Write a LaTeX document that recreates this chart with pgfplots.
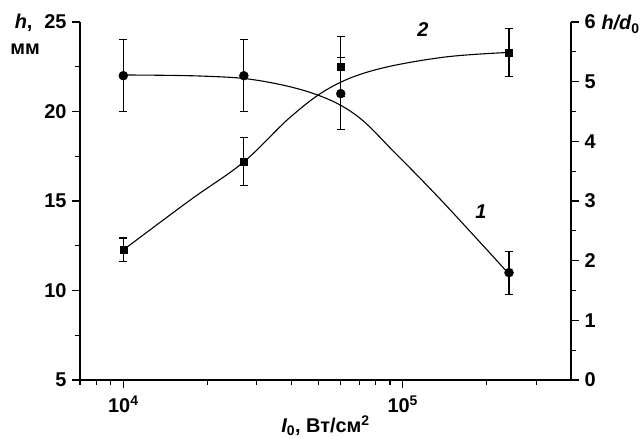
\documentclass[border=0pt]{standalone}
\usepackage{pgfplots}
\pgfplotsset{compat=1.18}
\usepackage{pgfplotstable}
\usepackage{fontspec}
\setmainfont{Liberation Sans}
\pgfplotstableread{
x y e
10000 22 2
27000 22 2
60000 21 2
240000 11 1.2
}\circdata
\pgfplotstableread{
x y e
10000 2.18 0.2
27000 3.66 0.4
60000 5.25 0.5
240000 5.49 0.4
}\sqdata
\pgfplotstableread{
x y
10000 22.04
19000 21.98
30000 21.75
48000 21.0
68000 19.8
95000 17.6
140000 14.9
240000 10.92
}\curveone
\pgfplotstableread{
x y
10000 2.18
17400 3.02
26900 3.65
39700 4.41
55000 4.9
80000 5.2
140000 5.41
240000 5.49
}\curvetwo
\begin{document}
\begin{tikzpicture}
\useasboundingbox (-80bp,-59bp) rectangle (560bp,380bp);
\pgfplotsset{
  every axis/.append style={
    scale only axis, width=491bp, height=358bp,
    xmode=log, xmin=7000, xmax=400000,
    axis line style={line width=1.4pt},
    every tick/.style={line width=1.2pt, black},
    tick align=outside,
    major tick length=8bp, minor tick length=5bp,
    ticklabel style={font=\bfseries\fontsize{20}{20}\selectfont},
    /pgf/number format/assume math mode=true,
    clip=false,
  }
}
\begin{axis}[
  axis x line*=bottom, axis y line*=left,
  ymin=5, ymax=25,
  ytick={5,10,15,20,25}, minor ytick={7.5,12.5,17.5,22.5},
  xtick={10000,100000}, xticklabels={10\textsuperscript{4},10\textsuperscript{5}},
  minor xtick={7000,8000,9000,20000,30000,40000,50000,60000,70000,80000,90000,200000,300000},
  xticklabel style={yshift=-4bp},
  yticklabel style={xshift=-2bp},
  xlabel={{\itshape\bfseries I}\textsubscript{\bfseries 0}\bfseries, Вт/см\textsuperscript{2}},
  xlabel style={font=\fontsize{20}{20}\selectfont, yshift=4bp},
]
\addplot[black, line width=1.1pt, smooth, tension=0.6] table[x=x,y=y] {\curveone};
\addplot[black, only marks, mark=*, mark size=4.5bp,
  error bars/.cd, y dir=both, y explicit,
  error bar style={line width=1.1pt, black},
  error mark options={rotate=90, mark size=4bp, line width=1.1pt, black}]
  table[x=x,y=y,y error=e] {\circdata};
\node[font=\bfseries\itshape\fontsize{20}{20}\selectfont] at (axis cs:190500,14.4) {1};
\node[font=\bfseries\itshape\fontsize{20}{20}\selectfont] at (axis cs:118000,24.6) {2};
\end{axis}
\begin{axis}[
  axis x line=none, axis y line*=right,
  ymin=0, ymax=6,
  ytick={0,1,2,3,4,5,6}, minor ytick={0.5,1.5,2.5,3.5,4.5,5.5},
  yticklabel style={xshift=2bp},
]
\addplot[black, line width=1.1pt, smooth, tension=0.6] table[x=x,y=y] {\curvetwo};
\addplot[black, only marks, mark=square*, mark size=3.5bp,
  error bars/.cd, y dir=both, y explicit,
  error bar style={line width=1.1pt, black},
  error mark options={rotate=90, mark size=4bp, line width=1.1pt, black}]
  table[x=x,y=y,y error=e] {\sqdata};
\end{axis}
\node[anchor=base east, font=\bfseries\fontsize{20}{20}\selectfont] at (-44bp,351bp) {\itshape h\upshape,};
\node[font=\bfseries\fontsize{20}{20}\selectfont] at (-55bp,331bp) {мм};
\node[anchor=base west, font=\bfseries\itshape\fontsize{20}{20}\selectfont] at (518bp,350bp) {h/d\textsubscript{\upshape 0}};
\end{tikzpicture}
\end{document}
